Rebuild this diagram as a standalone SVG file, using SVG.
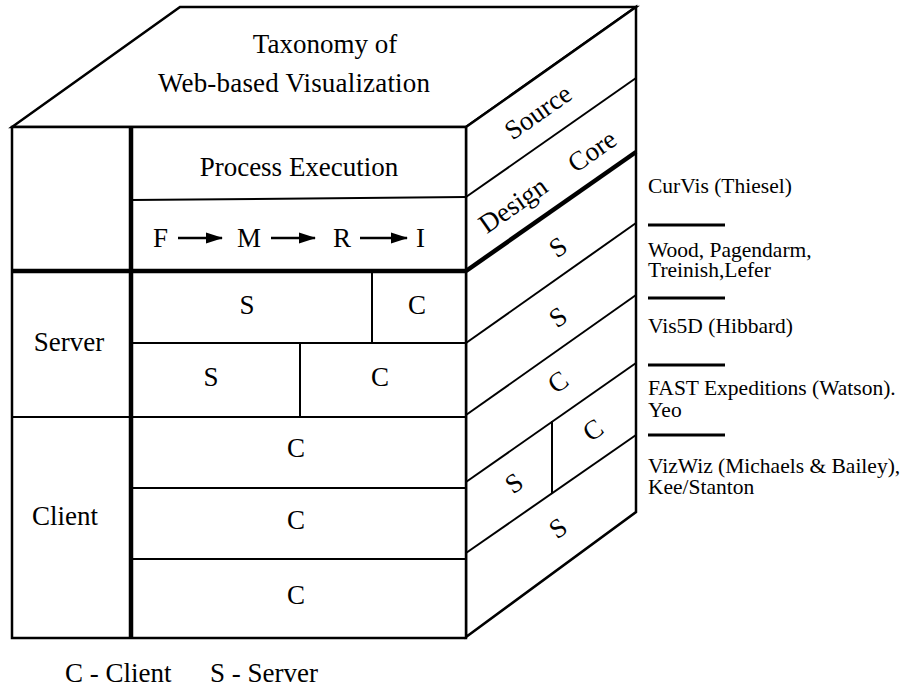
<svg xmlns="http://www.w3.org/2000/svg" width="903" height="688" viewBox="0 0 903 688">
<style>
.t{font-family:"Liberation Serif","Times New Roman",serif;font-size:27px;fill:#000}
.m{text-anchor:middle}
.s{font-family:"Liberation Serif","Times New Roman",serif;font-size:21.5px;fill:#000}
.ln{stroke:#000;stroke-width:2;fill:none}
.ar{stroke:#000;stroke-width:2.6;fill:none}
.ol{stroke:#000;stroke-width:2.5;fill:#fff;stroke-linejoin:miter}
.tk{stroke:#000;stroke-width:4.5;fill:none}
.sep{stroke:#000;stroke-width:3}
</style>
<defs>
<marker id="ah" markerWidth="17" markerHeight="12" refX="16" refY="6" orient="auto" markerUnits="userSpaceOnUse">
<path d="M0,0.5 L17,6 L0,11.5 Z" fill="#000"/>
</marker>
</defs>
<rect width="903" height="688" fill="#fff"/>
<g id="top-face">
<polygon class="ol" points="12,127 180,7 636,7 466,127"/>
<text class="t m" x="325" y="53">Taxonomy of</text>
<text class="t m" x="294" y="92" textLength="272" lengthAdjust="spacing">Web-based Visualization</text>
</g>
<g id="right-face">
<polygon class="ol" points="466,127 636,7 636,512 466,637"/>
<line class="ln" x1="466" y1="197" x2="636" y2="78"/>
<line class="tk" x1="466" y1="271" x2="636" y2="152"/>
<line class="ln" x1="466" y1="343" x2="636" y2="223"/>
<line class="ln" x1="466" y1="415" x2="636" y2="295"/>
<line class="ln" x1="466" y1="482" x2="636" y2="363"/>
<line class="ln" x1="466" y1="553" x2="636" y2="435"/>
<line class="ln" x1="552" y1="421" x2="552" y2="493"/>
<text class="t m" transform="translate(538,112) rotate(-35)" y="9">Source</text>
<text class="t m" transform="translate(513,205) rotate(-35)" y="9">Design</text>
<text class="t m" transform="translate(592,151) rotate(-35)" y="9">Core</text>
<text class="t m" transform="translate(558,247) rotate(-35)" y="9">S</text>
<text class="t m" transform="translate(558,317) rotate(-35)" y="9">S</text>
<text class="t m" transform="translate(558,382) rotate(-35)" y="9">C</text>
<text class="t m" transform="translate(514,483) rotate(-35)" y="9">S</text>
<text class="t m" transform="translate(593,430) rotate(-35)" y="9">C</text>
<text class="t m" transform="translate(558,528) rotate(-35)" y="9">S</text>
</g>
<g id="front-face">
<rect class="ol" x="12" y="127" width="454" height="511"/>
<line class="ln" x1="131" y1="200" x2="466" y2="197"/>
<line class="ln" x1="131" y1="343" x2="466" y2="343"/>
<line class="ln" x1="12" y1="417" x2="466" y2="417"/>
<line class="ln" x1="131" y1="488" x2="466" y2="488"/>
<line class="ln" x1="131" y1="559" x2="466" y2="559"/>
<line class="ln" x1="372" y1="271" x2="372" y2="343"/>
<line class="ln" x1="300" y1="343" x2="300" y2="417"/>
<line class="tk" x1="12" y1="271" x2="466" y2="271"/>
<line class="tk" x1="131" y1="127" x2="131" y2="638"/>
<text class="t m" x="299" y="176">Process Execution</text>
<text class="t m" x="69" y="351">Server</text>
<text class="t m" x="65" y="525">Client</text>
<text class="t m" x="247" y="314">S</text>
<text class="t m" x="417" y="314">C</text>
<text class="t m" x="211" y="386">S</text>
<text class="t m" x="380" y="386">C</text>
<text class="t m" x="296" y="457">C</text>
<text class="t m" x="296" y="529">C</text>
<text class="t m" x="296" y="604">C</text>
</g>
<g id="pipeline">
<text class="t" x="153" y="247">F</text>
<text class="t" x="237" y="247">M</text>
<text class="t" x="333" y="247">R</text>
<text class="t" x="416" y="247">I</text>
</g>
<g id="connectors">
<line class="ar" x1="178" y1="238" x2="222" y2="238" marker-end="url(#ah)"/>
<line class="ar" x1="271" y1="238" x2="315" y2="238" marker-end="url(#ah)"/>
<line class="ar" x1="360" y1="238" x2="407" y2="238" marker-end="url(#ah)"/>
</g>
<g id="systems">
<text class="s" x="648" y="193">CurVis (Thiesel)</text>
<line class="sep" x1="648" y1="225" x2="725" y2="225"/>
<text class="s" x="648" y="257">Wood, Pagendarm,<tspan x="648" dy="20">Treinish,Lefer</tspan></text>
<line class="sep" x1="648" y1="298" x2="725" y2="298"/>
<text class="s" x="648" y="333">Vis5D (Hibbard)</text>
<line class="sep" x1="648" y1="365" x2="725" y2="365"/>
<text class="s" x="648" y="395">FAST Expeditions (Watson).<tspan x="648" dy="22">Yeo</tspan></text>
<line class="sep" x1="648" y1="435" x2="725" y2="435"/>
<text class="s" x="648" y="473">VizWiz (Michaels &amp; Bailey),<tspan x="648" dy="21">Kee/Stanton</tspan></text>
</g>
<g id="legend">
<text class="t" x="65" y="682">C - Client</text>
<text class="t" x="210" y="682">S - Server</text>
</g>
</svg>
